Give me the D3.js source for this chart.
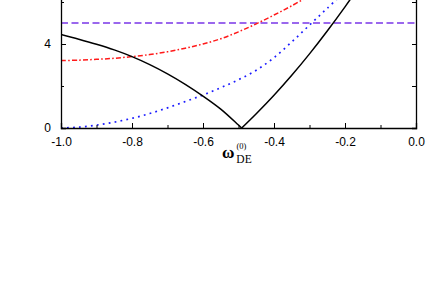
<!DOCTYPE html>
<html>
<head>
<meta charset="utf-8">
<script src="https://cdn.jsdelivr.net/npm/d3@7"></script>
<style>
  body { margin: 0; background: #fff; }
  svg { display: block; }
</style>
</head>
<body>
<svg id="chart" width="436" height="306"></svg>
<script>
/* Daten */
const wBlackLeft = [-1.0, -0.95, -0.9, -0.85, -0.8, -0.75, -0.7, -0.65, -0.6, -0.55, -0.5, -0.491];
const vBlackLeft = [4.45, 4.23, 3.99, 3.72, 3.40, 3.02, 2.58, 2.08, 1.52, 0.90, 0.14, 0.0];
const wBlackRight = [-0.491, -0.45, -0.4, -0.35, -0.3, -0.25, -0.2, -0.15];
const vBlackRight = [0.0, 0.68, 1.56, 2.51, 3.53, 4.62, 5.77, 6.98];

const wRed = [-1.0, -0.95, -0.9, -0.85, -0.8, -0.75, -0.7, -0.65, -0.6, -0.55, -0.5, -0.45, -0.4, -0.35, -0.3];
const vRed = [3.21, 3.23, 3.27, 3.32, 3.40, 3.50, 3.63, 3.80, 4.00, 4.25, 4.58, 4.96, 5.38, 5.82, 6.30];

const wBlue = [-1.0, -0.95, -0.9, -0.85, -0.8, -0.75, -0.7, -0.65, -0.6, -0.55, -0.5, -0.45, -0.4, -0.35, -0.3, -0.25, -0.2];
const vBlue = [0.0, 0.04, 0.14, 0.28, 0.46, 0.69, 0.96, 1.26, 1.57, 1.92, 2.30, 2.75, 3.35, 4.10, 4.90, 5.70, 6.50];

const wPurple = [-1.0, 0.0];
const vPurple = [5.0, 5.0];

const xMajor = [-1.0, -0.8, -0.6, -0.4, -0.2, 0.0];
const xMinor = [-0.9, -0.7, -0.5, -0.3, -0.1];
const yMajor = [0, 4];
const yMinor = [2, 6];

const svg = d3.select("#chart");
const x = d3.scaleLinear().domain([-1, 0]).range([61, 416]);
const y = d3.scaleLinear().domain([0, 7]).range([128, -19]);

/* Clip fuer die Kurven */
svg.append("defs").append("clipPath").attr("id", "clip")
  .append("rect")
  .attr("x", x(-1)).attr("y", y(7))
  .attr("width", x(0) - x(-1)).attr("height", y(0) - y(7));

const plot = svg.append("g").attr("clip-path", "url(#clip)");

const line = d3.line()
  .x(d => x(d[0]))
  .y(d => y(d[1]))
  .curve(d3.curveCatmullRom.alpha(0.5));

function addSeries(ws, vs, color, dash, width) {
  plot.append("path")
    .datum(ws.map((w, i) => [w, vs[i]]))
    .attr("fill", "none")
    .attr("stroke", color)
    .attr("stroke-width", width)
    .attr("stroke-dasharray", dash)
    .attr("d", line);
}

addSeries(wPurple, vPurple, "#7a36e8", "7,3.5", 1.3);
addSeries(wRed, vRed, "#ff1a1a", "5,2.2,1.6,2.2", 1.5);
addSeries(wBlue, vBlue, "#1a1aff", "1.8,4.2", 1.7);
addSeries(wBlackLeft, vBlackLeft, "#000", null, 1.5);
addSeries(wBlackRight, vBlackRight, "#000", null, 1.5);

/* Achsen */
const gx = svg.append("g").attr("transform", `translate(0,${y(0)})`)
  .call(d3.axisBottom(x).tickValues(xMajor).tickSize(-5).tickPadding(9));
gx.selectAll(".tick text")
  .attr("font-family", "Liberation Sans, Arial, sans-serif")
  .attr("font-size", 12)
  .text(d => d3.format(".1f")(d).replace("−", "-"));

svg.append("g").attr("transform", `translate(0,${y(0)})`)
  .call(d3.axisBottom(x).tickValues(xMinor).tickSize(-3).tickFormat(""))
  .select(".domain").remove();

const gy = svg.append("g").attr("transform", `translate(${x(-1)},0)`)
  .call(d3.axisLeft(y).tickValues(yMajor).tickSize(-5).tickPadding(10).tickFormat(d3.format("d")));
gy.selectAll(".tick text")
  .attr("font-family", "Liberation Sans, Arial, sans-serif")
  .attr("font-size", 12);

svg.append("g").attr("transform", `translate(${x(-1)},0)`)
  .call(d3.axisLeft(y).tickValues(yMinor).tickSize(-3).tickFormat(""))
  .select(".domain").remove();

svg.append("g").attr("transform", `translate(${x(0)},0)`)
  .call(d3.axisRight(y).tickValues(yMajor.concat(yMinor)).tickSize(-4).tickFormat(""));

svg.selectAll(".domain").attr("stroke", "#000").attr("stroke-width", 1.3);
svg.selectAll(".tick line").attr("stroke-width", 1);

/* Achsenbeschriftung */
const title = svg.append("text")
  .attr("x", 222)
  .attr("y", 158)
  .attr("font-family", "Liberation Serif, Times New Roman, serif")
  .attr("fill", "#000");
title.append("tspan").attr("font-size", 17).attr("font-weight", "bold").text("ω");
title.append("tspan").attr("font-size", 8.5).attr("dx", 2).attr("dy", -9).text("(0)");
title.append("tspan").attr("font-size", 11.5).attr("dx", -10).attr("dy", 14).text("DE");
</script>
</body>
</html>
